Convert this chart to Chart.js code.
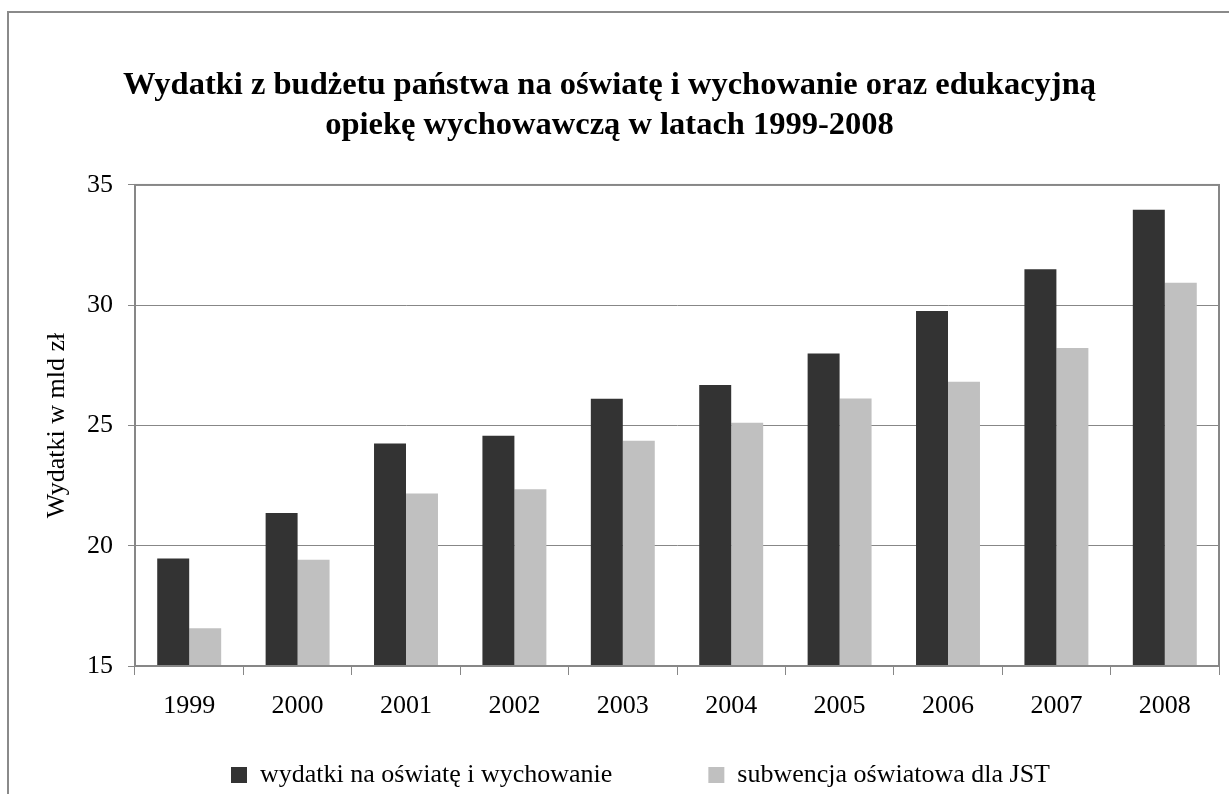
<!DOCTYPE html>
<html lang="pl">
<head>
<meta charset="utf-8">
<title>Wydatki z budżetu państwa na oświatę</title>
<script src="https://cdn.jsdelivr.net/npm/chart.js@4.4.1/dist/chart.umd.min.js"></script>
<style>
    html, body { margin: 0; padding: 0; background: #fff; }
    #wrap { position: relative; width: 1229px; height: 794px; overflow: hidden; }
    #frame {
        position: absolute; left: 7px; top: 11px; width: 1400px; height: 1000px;
        border-left: 2px solid #8a8a8a; border-top: 2px solid #8a8a8a;
        pointer-events: none;
    }
    canvas { position: absolute; left: 0; top: 0; }
</style>
</head>
<body>
<div id="wrap">
    <canvas id="chart" width="1229" height="794"></canvas>
    <div id="frame"></div>
</div>
<script>
const years = ['1999', '2000', '2001', '2002', '2003', '2004', '2005', '2006', '2007', '2008'];
const wydatki = [19.47, 21.36, 24.25, 24.57, 26.11, 26.68, 27.99, 29.76, 31.49, 33.97];
const subwencja = [16.57, 19.42, 22.17, 22.35, 24.36, 25.11, 26.12, 26.82, 28.22, 30.93];
const yTicks = [15, 20, 25, 30, 35];

const titleLines = [
    'Wydatki z budżetu państwa na oświatę i wychowanie oraz edukacyjną',
    'opiekę wychowawczą w latach 1999-2008'
];

const serif = 'Liberation Serif';
const axisGrey = '#878787';

// box round the plot area (Excel style)
const plotFrame = {
    id: 'plotFrame',
    afterDatasetsDraw(chart) {
        const { ctx, chartArea: a } = chart;
        ctx.save();
        ctx.strokeStyle = axisGrey;
        ctx.lineWidth = 2;
        ctx.strokeRect(a.left, a.top, a.right - a.left, a.bottom - a.top);
        ctx.restore();
    }
};

new Chart(document.getElementById('chart'), {
    type: 'bar',
    data: {
        labels: years,
        datasets: [
            {
                label: 'wydatki na oświatę i wychowanie',
                data: wydatki,
                backgroundColor: '#333333',
                borderWidth: 0
            },
            {
                label: 'subwencja oświatowa dla JST',
                data: subwencja,
                backgroundColor: '#c0c0c0',
                borderWidth: 0
            }
        ]
    },
    options: {
        responsive: false,
        animation: false,
        datasets: {
            bar: { categoryPercentage: 0.59, barPercentage: 1 }
        },
        layout: {
            padding: { top: 12, left: 0, right: 10, bottom: -4 }
        },
        scales: {
            x: {
                // sits on the y=15 line, so it takes no room from the legend
                position: { y: 15 },
                grid: {
                    drawOnChartArea: false,
                    drawTicks: true,
                    tickLength: 8,
                    color: axisGrey
                },
                border: { display: true, color: axisGrey, width: 2 },
                ticks: {
                    padding: 17,
                    color: '#000',
                    font: { family: serif, size: 26 }
                }
            },
            y: {
                min: 15,
                max: 35,
                afterBuildTicks(scale) {
                    scale.ticks = yTicks.map(v => ({ value: v }));
                },
                grid: {
                    color: axisGrey,
                    lineWidth: 1,
                    tickLength: 7
                },
                border: { display: true, color: axisGrey, width: 2 },
                ticks: {
                    padding: 15,
                    color: '#000',
                    font: { family: serif, size: 26 }
                },
                title: {
                    display: true,
                    text: 'Wydatki w mld zł',
                    color: '#000',
                    font: { family: serif, size: 26 },
                    padding: { top: 42, bottom: 0 }
                },
                afterFit(scale) { scale.width = 135; }
            }
        },
        plugins: {
            title: {
                display: true,
                text: titleLines,
                color: '#000',
                font: { family: serif, size: 32.5, weight: 'bold', lineHeight: 1.23 },
                padding: { top: 54, bottom: 39 }
            },
            legend: {
                position: 'bottom',
                align: 'start',
                fullSize: false,
                labels: {
                    boxWidth: 16,
                    boxHeight: 16,
                    padding: 96,
                    color: '#000',
                    font: { family: serif, size: 26 }
                }
            },
            tooltip: { enabled: false }
        }
    },
    plugins: [plotFrame]
});
</script>
</body>
</html>
